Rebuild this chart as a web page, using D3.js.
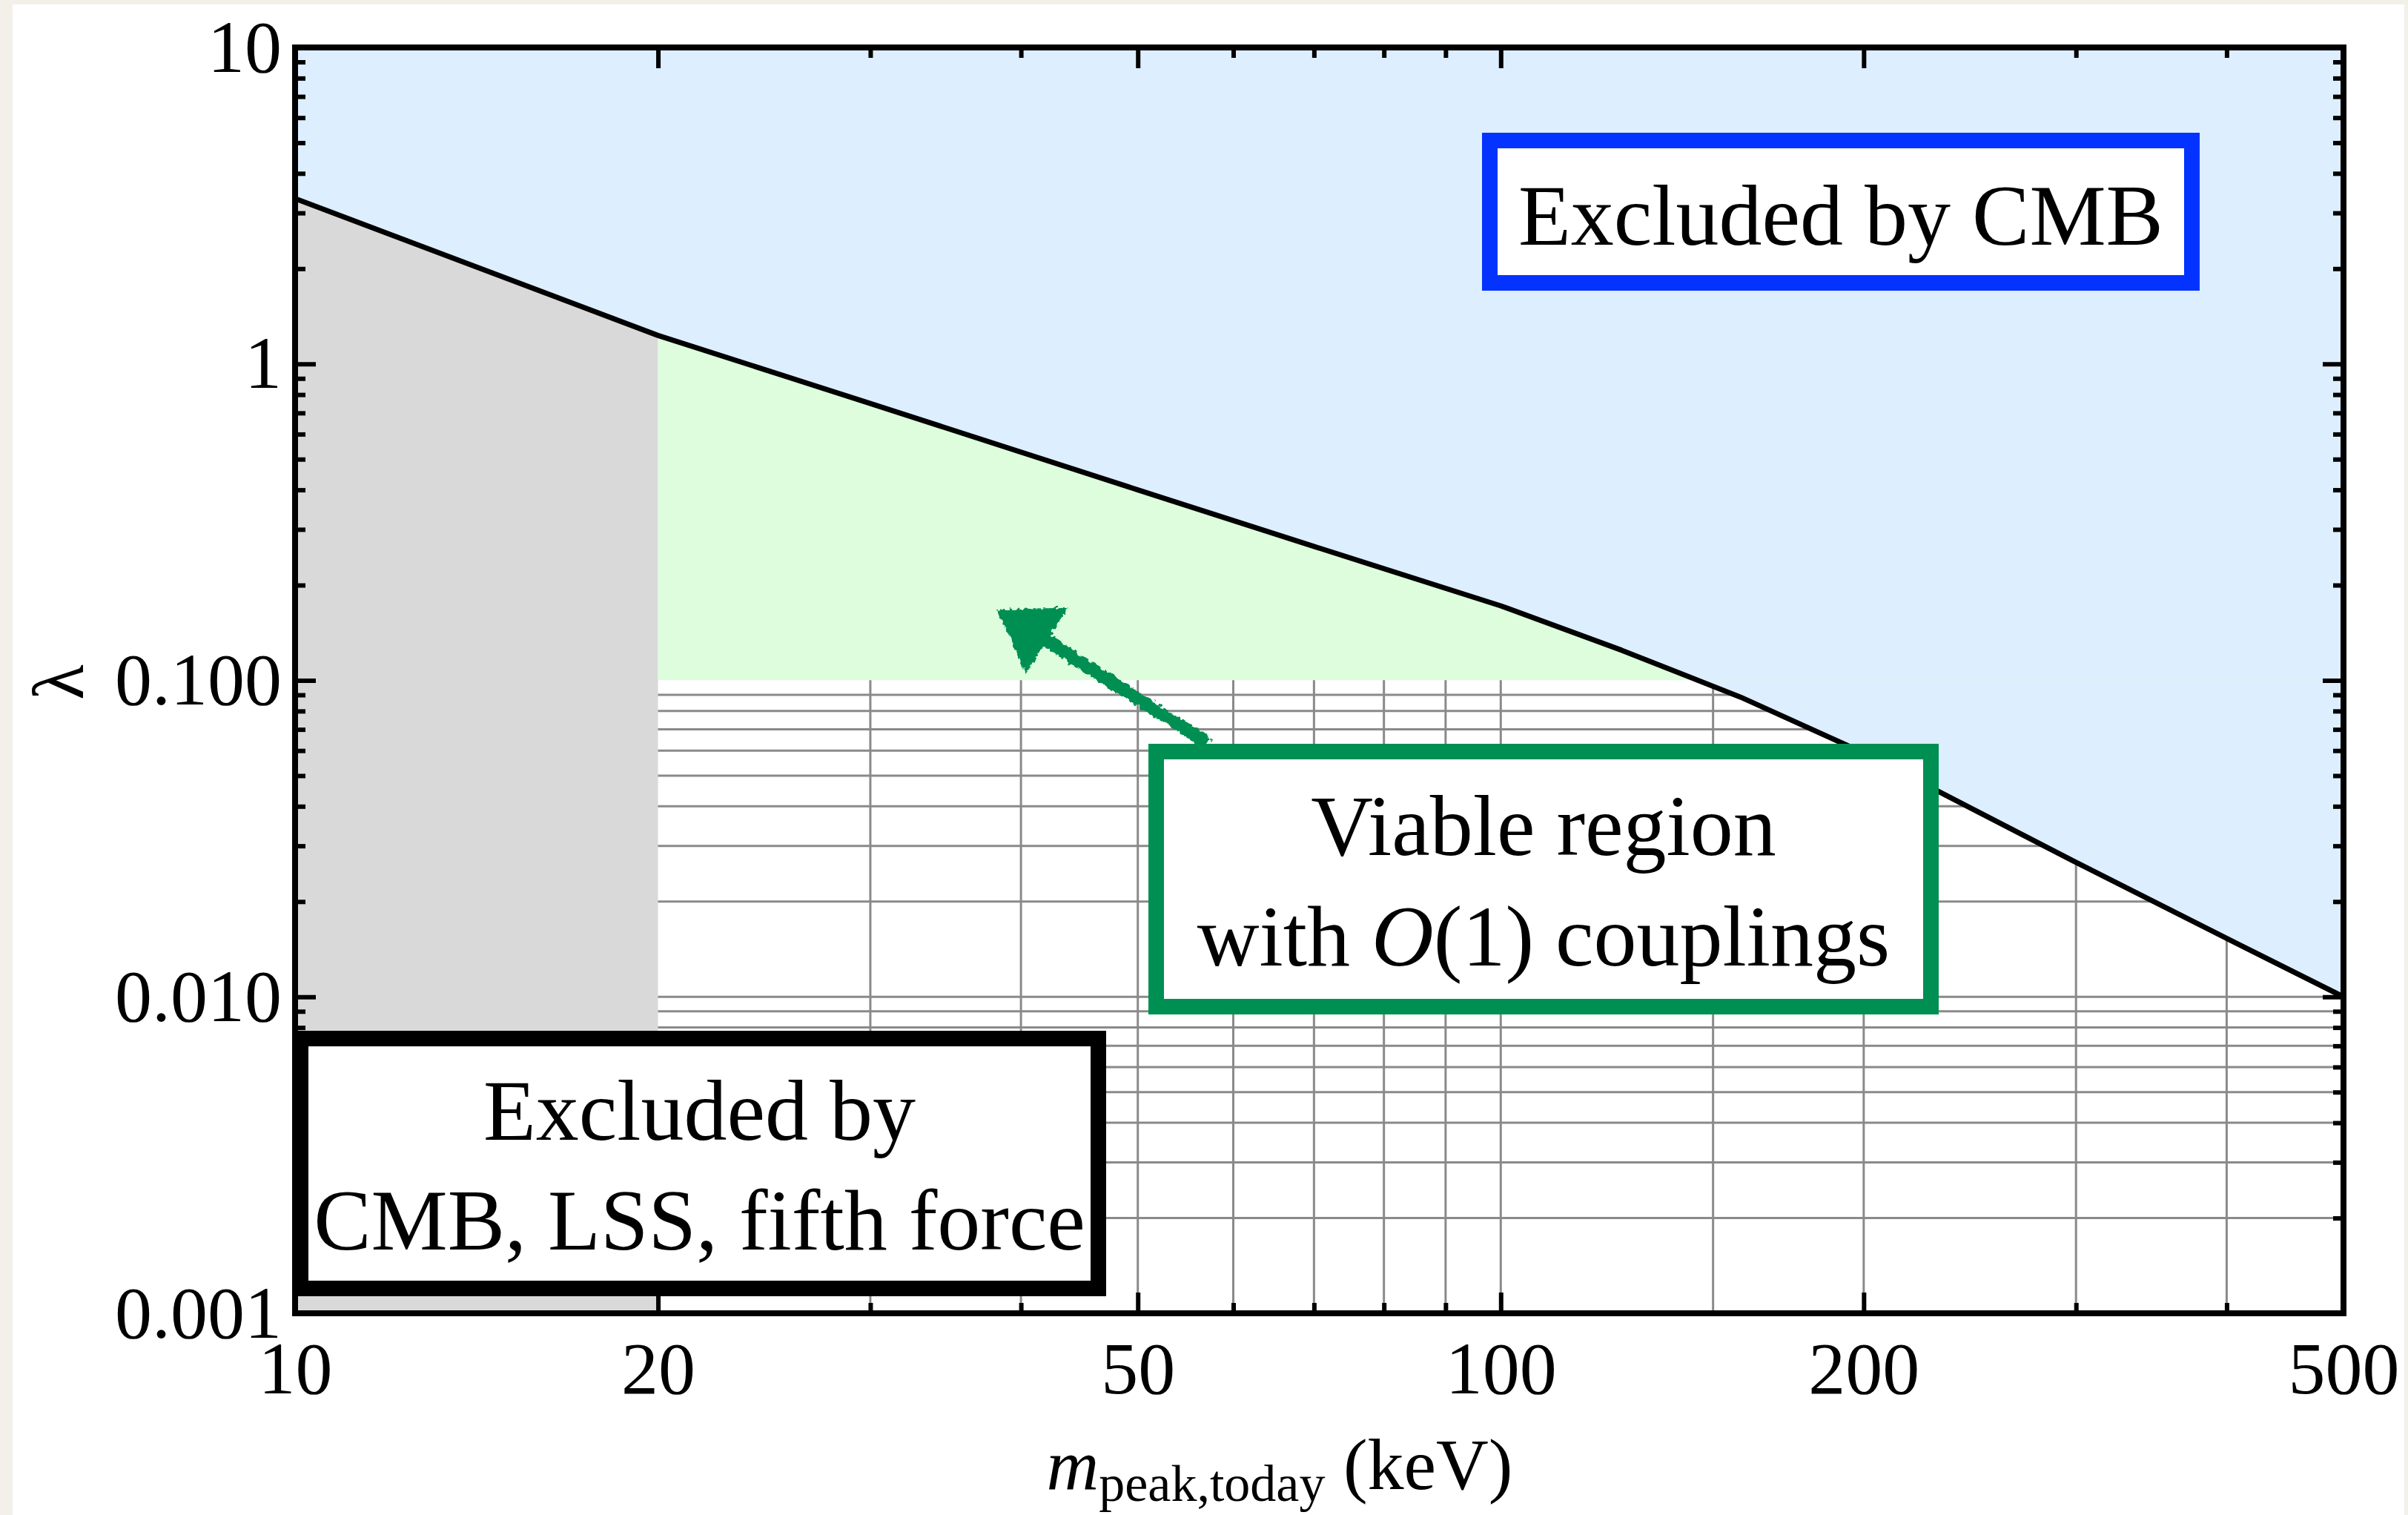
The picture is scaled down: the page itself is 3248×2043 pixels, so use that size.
<!DOCTYPE html>
<html>
<head>
<meta charset="utf-8">
<script src="https://cdn.jsdelivr.net/npm/d3@7"></script>
<style>
  body { margin: 0; background: #f3f0ea; }
  svg { display: block; }
  text { font-family: "Liberation Serif", "Times New Roman", serif; fill: #000; }
</style>
</head>
<body>
<script>
// size of the page
const w = 3248;
const h = 2043;

// CMB bound (upper edge of allowed lambda)
const cmbMass = [10, 20, 30, 50, 70, 100, 126, 158, 200, 300, 400, 500];
const cmbLambda = [3.33, 1.23, 0.75, 0.40, 0.265, 0.172, 0.1245, 0.0886, 0.059, 0.0266, 0.0153, 0.0100];

// limits of the shaded regions
const massDomain = [10, 500];
const lambdaDomain = [0.001, 10];
const excludedMassMax = 20;   // grey band: m < 20 keV
const viableLambdaMin = 0.1;  // green band: lambda > 0.1

// ticks
const massTicksMajor = [10, 20, 50, 100, 200, 500];
const massTickLabels = ["10", "20", "50", "100", "200", "500"];
const massTicksMinor = [30, 40, 60, 70, 80, 90, 300, 400];
const lambdaTicksMajor = [10, 1, 0.1, 0.01, 0.001];
const lambdaTickLabels = ["10", "1", "0.100", "0.010", "0.001"];
const lambdaTicksMinor = [9, 8, 7, 6, 5, 4, 3, 2,
  0.9, 0.8, 0.7, 0.6, 0.5, 0.4, 0.3, 0.2,
  0.09, 0.08, 0.07, 0.06, 0.05, 0.04, 0.03, 0.02,
  0.009, 0.008, 0.007, 0.006, 0.005, 0.004, 0.003, 0.002];

// grid lines in the white part
const gridMass = [30, 40, 50, 60, 70, 80, 90, 100, 150, 200, 300, 400];
const gridLambda = [0.09, 0.08, 0.07, 0.06, 0.05, 0.04, 0.03, 0.02, 0.01,
  0.009, 0.008, 0.007, 0.006, 0.005, 0.004, 0.003, 0.002];

// arrow (tail at the box, tip in the green region)
const arrowTail = [57.2, 0.063];
const arrowTip = [38.2, 0.168];

const plot = { left: 398, right: 3161, top: 64, bottom: 1771 };

const x = d3.scaleLog().domain(massDomain).range([plot.left, plot.right]);
const y = d3.scaleLog().domain(lambdaDomain).range([plot.bottom, plot.top]);

const pts = cmbMass.map((m, i) => [m, cmbLambda[i]]);

const svg = d3.select("body").append("svg").attr("width", w).attr("height", h);

const defs = svg.append("defs");
defs.append("clipPath").attr("id", "greenClip")
  .append("rect")
  .attr("x", x(excludedMassMax)).attr("y", y(10))
  .attr("width", x(500) - x(excludedMassMax))
  .attr("height", y(viableLambdaMin) - y(10));
const chalk = defs.append("filter").attr("id", "chalk")
  .attr("x", "-20%").attr("y", "-20%").attr("width", "140%").attr("height", "140%");
chalk.append("feTurbulence").attr("type", "fractalNoise").attr("baseFrequency", 0.15)
  .attr("numOctaves", 2).attr("seed", 3).attr("result", "n");
chalk.append("feDisplacementMap").attr("in", "SourceGraphic").attr("in2", "n")
  .attr("scale", 9).attr("xChannelSelector", "R").attr("yChannelSelector", "G");

// white card
svg.append("rect").attr("x", 17).attr("y", 6).attr("width", 3226).attr("height", h - 6).attr("fill", "#fff");

// grid
svg.append("g").selectAll("line").data(gridMass).enter().append("line")
  .attr("x1", d => x(d)).attr("x2", d => x(d))
  .attr("y1", y(10)).attr("y2", y(0.001))
  .attr("stroke", "#8a8a8a").attr("stroke-width", 3);
svg.append("g").selectAll("line").data(gridLambda).enter().append("line")
  .attr("x1", x(10)).attr("x2", x(500))
  .attr("y1", d => y(d)).attr("y2", d => y(d))
  .attr("stroke", "#8a8a8a").attr("stroke-width", 3);

// excluded by CMB (above the curve)
svg.append("path").datum(pts)
  .attr("fill", "#ddeeff")
  .attr("d", d3.area().x(d => x(d[0])).y0(y(10)).y1(d => y(d[1])));

// excluded by CMB, LSS, fifth force (m < 20)
svg.append("path").datum(pts.filter(d => d[0] <= excludedMassMax))
  .attr("fill", "#d9d9d9")
  .attr("d", d3.area().x(d => x(d[0])).y0(y(0.001)).y1(d => y(d[1])));

// viable region
svg.append("path").datum(pts.filter(d => d[0] >= excludedMassMax))
  .attr("fill", "#ddfddd")
  .attr("clip-path", "url(#greenClip)")
  .attr("d", d3.area().x(d => x(d[0])).y0(y(viableLambdaMin)).y1(d => y(d[1])));

// the bound
svg.append("path").datum(pts)
  .attr("fill", "none").attr("stroke", "#000").attr("stroke-width", 7)
  .attr("stroke-linejoin", "round")
  .attr("d", d3.line().x(d => x(d[0])).y(d => y(d[1])));

// axes with inward ticks on all four sides
function styleAxis(g) {
  g.select(".domain").remove();
  g.selectAll(".tick line").attr("stroke", "#000").attr("stroke-width", 6);
  g.selectAll(".tick text").attr("font-size", 100).attr("font-family", "'Liberation Serif', serif");
}
const xLabel = d => massTickLabels[massTicksMajor.indexOf(d)];
const yLabel = d => lambdaTickLabels[lambdaTicksMajor.indexOf(d)];

svg.append("g").attr("transform", "translate(0," + plot.bottom + ")")
  .call(d3.axisBottom(x).tickValues(massTicksMajor).tickFormat(xLabel).tickSize(-28).tickPadding(37))
  .call(styleAxis);
svg.append("g").attr("transform", "translate(0," + plot.bottom + ")")
  .call(d3.axisBottom(x).tickValues(massTicksMinor).tickFormat("").tickSize(-14))
  .call(styleAxis);
svg.append("g").attr("transform", "translate(0," + plot.top + ")")
  .call(d3.axisTop(x).tickValues(massTicksMajor).tickFormat("").tickSize(-28))
  .call(styleAxis);
svg.append("g").attr("transform", "translate(0," + plot.top + ")")
  .call(d3.axisTop(x).tickValues(massTicksMinor).tickFormat("").tickSize(-14))
  .call(styleAxis);

svg.append("g").attr("transform", "translate(" + plot.left + ",0)")
  .call(d3.axisLeft(y).tickValues(lambdaTicksMajor).tickFormat(yLabel).tickSize(-28).tickPadding(18))
  .call(styleAxis);
svg.append("g").attr("transform", "translate(" + plot.left + ",0)")
  .call(d3.axisLeft(y).tickValues(lambdaTicksMinor).tickFormat("").tickSize(-14))
  .call(styleAxis);
svg.append("g").attr("transform", "translate(" + plot.right + ",0)")
  .call(d3.axisRight(y).tickValues(lambdaTicksMajor).tickFormat("").tickSize(-28))
  .call(styleAxis);
svg.append("g").attr("transform", "translate(" + plot.right + ",0)")
  .call(d3.axisRight(y).tickValues(lambdaTicksMinor).tickFormat("").tickSize(-14))
  .call(styleAxis);

// frame
svg.append("rect")
  .attr("x", plot.left).attr("y", plot.top)
  .attr("width", plot.right - plot.left).attr("height", plot.bottom - plot.top)
  .attr("fill", "none").attr("stroke", "#000").attr("stroke-width", 8);

// axis titles
const xt = svg.append("text").attr("x", 1726).attr("y", 2008).attr("text-anchor", "middle");
xt.append("tspan").attr("font-size", 98).attr("font-style", "italic").text("m");
xt.append("tspan").attr("font-size", 70).attr("dy", 16).text("peak,today");
xt.append("tspan").attr("font-size", 98).attr("dy", -16).text(" (keV)");

svg.append("text")
  .attr("transform", "translate(78,920) rotate(-90)")
  .attr("text-anchor", "middle").attr("dy", "0.35em")
  .attr("font-size", 98).text("λ");

// label boxes
function labelBox(x0, y0, x1, y1, color, lines) {
  const g = svg.append("g");
  g.append("rect")
    .attr("x", x0 + 10.5).attr("y", y0 + 10.5)
    .attr("width", x1 - x0 - 21).attr("height", y1 - y0 - 21)
    .attr("fill", "#fff").attr("stroke", color).attr("stroke-width", 21);
  lines.forEach(l => {
    const t = g.append("text").attr("x", (x0 + x1) / 2).attr("y", l.y)
      .attr("text-anchor", "middle").attr("font-size", 116);
    l.parts.forEach(p => t.append("tspan").attr("font-style", p.italic ? "italic" : null).text(p.s));
  });
}

labelBox(1999, 179, 2967, 392, "#0433ff", [
  { y: 330, parts: [{ s: "Excluded by CMB" }] }
]);
labelBox(395, 1390, 1492, 1748, "#000", [
  { y: 1537, parts: [{ s: "Excluded by" }] },
  { y: 1685, parts: [{ s: "CMB, LSS, fifth force" }] }
]);

// arrow to the viable region
const tx = x(arrowTail[0]), ty = y(arrowTail[1]);
const hx = x(arrowTip[0]), hy = y(arrowTip[1]);
const len = Math.hypot(hx - tx, hy - ty);
const ux = (hx - tx) / len, uy = (hy - ty) / len;
const headLen = 80, headHalf = 53;
const bx = hx - ux * headLen, by = hy - uy * headLen;
const arrow = svg.append("g").attr("filter", "url(#chalk)");
arrow.append("line")
  .attr("x1", tx).attr("y1", ty).attr("x2", bx + ux * 10).attr("y2", by + uy * 10)
  .attr("stroke", "#008f53").attr("stroke-width", 17);
arrow.append("path")
  .attr("fill", "#008f53")
  .attr("d", "M" + hx + "," + hy +
    "L" + (bx - uy * headHalf) + "," + (by + ux * headHalf) +
    "L" + (bx + uy * headHalf) + "," + (by - ux * headHalf) + "Z");

labelBox(1549, 1003, 2615, 1368, "#008f53", [
  { y: 1153, parts: [{ s: "Viable region" }] },
  { y: 1302, parts: [{ s: "with " }, { s: "O", italic: true }, { s: "(1) couplings" }] }
]);
</script>
</body>
</html>
